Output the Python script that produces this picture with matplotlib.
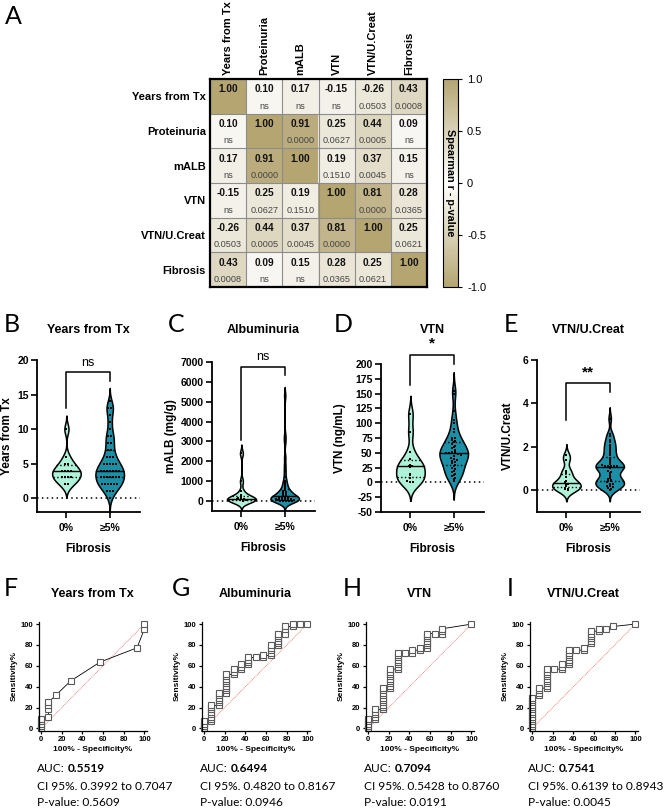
import numpy as np
import matplotlib
matplotlib.use('Agg')
import matplotlib.pyplot as plt
from matplotlib.colors import LinearSegmentedColormap
from matplotlib.cm import ScalarMappable
from matplotlib.colors import Normalize

W, H = 669, 808

# ---- A: Spearman correlation matrix ----
corr_labels = ['Years from Tx', 'Proteinuria', 'mALB', 'VTN', 'VTN/U.Creat', 'Fibrosis']
corr_r = [
	[1.00, 0.10, 0.17, -0.15, -0.26, 0.43],
	[0.10, 1.00, 0.91, 0.25, 0.44, 0.09],
	[0.17, 0.91, 1.00, 0.19, 0.37, 0.15],
	[-0.15, 0.25, 0.19, 1.00, 0.81, 0.28],
	[-0.26, 0.44, 0.37, 0.81, 1.00, 0.25],
	[0.43, 0.09, 0.15, 0.28, 0.25, 1.00],
]
corr_p = [
	['', 'ns', 'ns', 'ns', '0.0503', '0.0008'],
	['ns', '', '0.0000', '0.0627', '0.0005', 'ns'],
	['ns', '0.0000', '', '0.1510', '0.0045', 'ns'],
	['ns', '0.0627', '0.1510', '', '0.0000', '0.0365'],
	['0.0503', '0.0005', '0.0045', '0.0000', '', '0.0621'],
	['0.0008', 'ns', 'ns', '0.0365', '0.0621', ''],
]

# ---- B-E: violin data (0% fibrosis, >=5% fibrosis) ----
years_0 = [10, 6, 5, 5, 4, 4, 4, 4, 3, 3, 3, 3, 2, 2]
years_5 = [14, 13, 13, 12, 11, 10, 9, 9, 8, 8, 7, 7, 6, 6, 6, 5, 5, 5, 5, 5,
	4, 4, 4, 4, 4, 4, 4, 3, 3, 3, 3, 3, 3, 3, 2, 2, 2, 2, 2, 2, 1, 1, 1, 0]
malb_0 = [2400, 1000, 500, 300, 200, 150, 120, 100, 80, 60, 50, 40, 30, 20]
malb_5 = [5300, 3300, 3000, 2200, 1800, 1500, 1200, 1000, 900, 800,
	700, 600, 550, 500, 450, 420, 400, 380, 350, 300,
	280, 250, 230, 200, 180, 160, 150, 130, 120, 100,
	90, 80, 70, 60, 50, 45, 40, 35, 30, 25, 20, 15, 10, 5]
vtn_0 = [115, 85, 52, 40, 30, 28, 28, 26, 15, 12, 8, 2, 1, 0]
vtn_5 = [155, 150, 120, 105, 100, 90, 85, 75, 75, 72,
	70, 68, 65, 62, 60, 58, 55, 52, 51, 50,
	50, 50, 50, 48, 46, 45, 42, 40, 38, 36,
	35, 33, 30, 28, 25, 22, 20, 18, 15, 12, 10, 8, 5, 2]
ratio_0 = [1.6, 1.4, 0.9, 0.8, 0.6, 0.4, 0.35, 0.3, 0.25, 0.2, 0.1, 0.05, 0.03, 0.0]
ratio_5 = [3.3, 2.6, 2.5, 2.3, 2.2, 2.1, 2.0, 1.9, 1.8, 1.7,
	1.6, 1.5, 1.4, 1.35, 1.3, 1.2, 1.15, 1.1, 1.1, 1.1,
	1.1, 1.1, 1.05, 1.0, 0.9, 0.85, 0.8, 0.7, 0.6, 0.55,
	0.5, 0.45, 0.4, 0.4, 0.35, 0.3, 0.3, 0.25, 0.2, 0.2, 0.15, 0.1, 0.05, 0.0]
group_labels = ['0%', '≥5%']
sig_labels = ['ns', 'ns', '*', '**']

# ---- F-I: ROC curves (100% - specificity %, sensitivity %) ----
roc_years_x = [0, 0, 0, 0, 0, 7.14, 7.14, 7.14, 7.14, 14.29, 28.57, 57.14, 92.86, 100, 100]
roc_years_y = [0, 2.27, 4.55, 6.82, 9.09, 11.36, 18.18, 22.73, 25.00, 31.82, 45.45, 63.64, 77.27, 95.45, 100]
roc_malb_x = [0, 0, 0, 0,
	7.14, 7.14, 7.14, 7.14, 7.14, 7.14, 7.14, 7.14,
	14.29, 14.29, 14.29, 14.29, 14.29, 14.29,
	21.43, 21.43, 21.43, 21.43, 21.43, 21.43, 21.43, 21.43, 21.43,
	28.57, 28.57, 28.57, 35.71, 35.71, 35.71,
	42.86, 42.86, 42.86, 42.86, 50.00, 57.14, 57.14,
	64.29, 64.29, 64.29, 64.29, 64.29,
	71.43, 71.43, 71.43, 71.43, 71.43, 71.43,
	78.57, 78.57, 78.57, 85.71, 85.71, 92.86, 100]
roc_malb_y = [0, 2.27, 4.55, 6.82,
	6.82, 9.09, 11.36, 13.64, 15.91, 18.18, 20.45, 22.73,
	22.73, 25.00, 27.27, 29.55, 31.82, 34.09,
	34.09, 36.36, 38.64, 40.91, 43.18, 45.45, 47.73, 50.00, 52.27,
	52.27, 54.55, 56.82, 56.82, 59.09, 61.36,
	61.36, 63.64, 65.91, 68.18, 68.18, 68.18, 70.45,
	70.45, 72.73, 75.00, 77.27, 79.55,
	79.55, 81.82, 84.09, 86.36, 88.64, 90.91,
	90.91, 95.45, 97.73, 97.73, 100, 100, 100]
roc_vtn_x = [0, 0, 0, 0, 0,
	7.14, 7.14, 7.14, 7.14, 7.14,
	14.29, 14.29, 14.29, 14.29, 14.29, 14.29, 14.29, 14.29, 14.29, 14.29,
	21.43, 21.43, 21.43, 21.43, 21.43, 21.43, 21.43, 21.43, 21.43,
	28.57, 28.57, 28.57, 28.57, 28.57, 28.57, 28.57, 28.57,
	35.71, 42.86, 42.86, 50.00, 50.00,
	57.14, 57.14, 57.14, 57.14, 57.14, 57.14, 57.14,
	64.29, 71.43, 71.43, 71.43, 100]
roc_vtn_y = [0, 2.27, 4.55, 6.82, 9.09,
	9.09, 11.36, 13.64, 15.91, 18.18,
	18.18, 20.45, 22.73, 25.00, 27.27, 29.55, 31.82, 34.09, 36.36, 38.64,
	38.64, 40.91, 43.18, 45.45, 47.73, 50.00, 52.27, 54.55, 56.82,
	56.82, 59.09, 61.36, 63.64, 65.91, 68.18, 70.45, 72.73,
	72.73, 72.73, 75.00, 75.00, 77.27,
	77.27, 79.55, 81.82, 84.09, 86.36, 88.64, 90.91,
	90.91, 90.91, 93.18, 95.45, 100]
roc_ratio_x = [0, 0, 0, 0, 0, 0, 0, 0, 0, 0, 0, 0, 0, 0,
	7.14, 7.14, 7.14, 7.14,
	14.29, 14.29, 14.29, 14.29, 14.29, 14.29, 14.29, 14.29, 14.29,
	21.43, 28.57, 28.57, 28.57,
	35.71, 35.71, 35.71, 35.71, 35.71, 35.71, 35.71,
	42.86, 50.00, 50.00,
	57.14, 57.14, 57.14, 57.14, 57.14, 57.14,
	64.29, 64.29, 71.43, 78.57, 100]
roc_ratio_y = [0, 2.27, 4.55, 6.82, 9.09, 11.36, 13.64, 15.91, 18.18, 20.45, 22.73, 25.00, 27.27, 29.55,
	31.82, 34.09, 36.36, 38.64,
	38.64, 40.91, 43.18, 45.45, 47.73, 50.00, 52.27, 54.55, 56.82,
	56.82, 56.82, 59.09, 61.36,
	61.36, 63.64, 65.91, 68.18, 70.45, 72.73, 75.00,
	75.00, 75.00, 77.27,
	81.82, 84.09, 86.36, 88.64, 90.91, 93.18,
	93.18, 95.45, 95.45, 97.73, 100]
roc_auc = ['0.5519', '0.6494', '0.7094', '0.7541']
roc_ci = ['0.3992 to 0.7047', '0.4820 to 0.8167', '0.5428 to 0.8760', '0.6139 to 0.8943']
roc_p = ['0.5609', '0.0946', '0.0191', '0.0045']

titles = ['Years from Tx', 'Albuminuria', 'VTN', 'VTN/U.Creat']

OLIVE = '#b4a571'
MINT = '#aef2d9'
TEAL = '#1b8fa6'
LETTER_FONT = ['Lato', 'DejaVu Sans']

plt.rcParams['font.family'] = ['Liberation Sans', 'DejaVu Sans']


def px_box(x0, y0, x1, y1):
	return [x0 / W, 1 - y1 / H, (x1 - x0) / W, (y1 - y0) / H]


def letter(x, y, s):
	fig.text(x / W, 1 - y / H, s, fontsize=18, family=LETTER_FONT, ha='left', va='center')


def draw_violin(ax, vals, pos, color, bw, binsize, halfw=0.33):
	vals = np.asarray(vals, float)
	y = np.linspace(vals.min() - 2.6 * bw, vals.max() + 2.6 * bw, 400)
	d = np.exp(-0.5 * ((y[:, None] - vals[None, :]) / bw) ** 2).sum(axis=1)
	d = d / d.max() * halfw
	ax.fill_betweenx(y, pos - d, pos + d, facecolor=color, edgecolor='black', lw=1.1, zorder=2)
	q1, med, q3 = np.percentile(vals, [25, 50, 75])
	for q, ls in ((q1, ':'), (med, '-'), (q3, ':')):
		w = np.interp(q, y, d)
		ax.plot([pos - w, pos + w], [q, q], color='black', ls=ls, lw=1.0, zorder=3)
	# points laid out in rows
	keys = np.round(vals / binsize)
	for k in np.unique(keys):
		v = vals[keys == k]
		n = len(v)
		xs = pos + (np.arange(n) - (n - 1) / 2) * 0.07
		ax.plot(xs, v, 's', ms=1.6, color='black', mew=0, zorder=4)


fig = plt.figure(figsize=(W / 100, H / 100), dpi=100)

# ---------------- A ----------------
letter(5, 17, 'A')
ax = fig.add_axes(px_box(210, 79, 427, 287))
cmap = LinearSegmentedColormap.from_list('olive', [OLIVE, 'white', OLIVE])
ax.imshow(np.array(corr_r), cmap=cmap, vmin=-1, vmax=1, extent=(0, 6, 6, 0),
	aspect='auto', interpolation='nearest')
for k in range(1, 6):
	ax.axhline(k, color='#8c8c8c', lw=0.8)
	ax.axvline(k, color='#8c8c8c', lw=0.8)
for i in range(6):
	for j in range(6):
		ax.text(j + 0.5, i + 0.3, '%.2f' % corr_r[i][j], ha='center', va='center',
			fontsize=7.3, fontweight='bold', color='#111111')
		ax.text(j + 0.5, i + 0.78, corr_p[i][j], ha='center', va='center',
			fontsize=6.6, color='#444444')
ax.set_xlim(0, 6)
ax.set_ylim(6, 0)
ax.set_xticks(np.arange(6) + 0.5)
ax.set_xticklabels(corr_labels, rotation=90, fontsize=8, fontweight='bold')
ax.xaxis.tick_top()
ax.set_yticks(np.arange(6) + 0.5)
ax.set_yticklabels(corr_labels, fontsize=8, fontweight='bold')
ax.tick_params(length=0, pad=3)
for s in ax.spines.values():
	s.set_linewidth(1.6)

cax = fig.add_axes(px_box(443, 79, 458, 287))
cb = fig.colorbar(ScalarMappable(norm=Normalize(-1, 1), cmap=cmap), cax=cax)
cb.set_ticks([-1, -0.5, 0, 0.5, 1])
cb.set_ticklabels(['-1.0', '-0.5', '0', '0.5', '1.0'])
cax.tick_params(labelsize=8, length=3, width=0.8)
cb.outline.set_linewidth(0.8)
cax.text(0.5, 0.5, 'Spearman r - p-value', rotation=-90, transform=cax.transAxes,
	ha='center', va='center', fontsize=7.8, fontweight='bold')

# ---------------- B-E ----------------
violin_sets = [
	(years_0, years_5, 'Years from Tx', (-2, 20), [0, 5, 10, 15, 20], 0.75, 1.0, (18.2, 13.0, 17.0)),
	(malb_0, malb_5, 'mALB (mg/g)', (-500, 7000), list(range(0, 7001, 1000)), 170, 60, (6760, 3070, 6340)),
	(vtn_0, vtn_5, 'VTN (ng/mL)', (-50, 200), list(range(-50, 201, 25)), 12, 4, (216, 164, 200)),
	(ratio_0, ratio_5, 'VTN/U.Creat', (-1, 6), [0, 2, 4, 6], 0.2, 0.08, (4.92, 3.23, 4.54)),
]
violin_boxes = [(37, 360, 140, 512), (212, 362, 315, 511), (381, 364, 484, 512), (537, 360, 640, 511.7)]
violin_letters = [(4, 325, 'B'), (168, 325, 'C'), (334, 325, 'D'), (504, 325, 'E')]
violin_ylabel_x = [13, 177, 346, 514]

for n, (g0, g5, ylab, ylim, yticks, bw, binsize, br) in enumerate(violin_sets):
	box = violin_boxes[n]
	ax = fig.add_axes(px_box(*box))
	letter(violin_letters[n][0], violin_letters[n][1], violin_letters[n][2])
	draw_violin(ax, g0, 0, MINT, bw, binsize)
	draw_violin(ax, g5, 1, TEAL, bw, binsize)
	ax.set_xlim(-0.68, 1.7)
	ax.set_ylim(*ylim)
	ax.axhline(0, color='black', ls=(0, (1, 2.2)), lw=1.1, zorder=1)
	ax.set_yticks(yticks)
	ax.set_yticklabels([str(t) for t in yticks], fontsize=7.5, fontweight='bold')
	ax.set_xticks([0, 1])
	ax.set_xticklabels(group_labels, fontsize=7.5, fontweight='bold')
	ax.tick_params(direction='out', length=4, width=1.2, pad=2)
	ax.tick_params(axis='x', pad=4)
	for s in ('top', 'right'):
		ax.spines[s].set_visible(False)
	for s in ('left', 'bottom'):
		ax.spines[s].set_linewidth(1.3)
	ax.set_xlabel('Fibrosis', fontsize=8.5, fontweight='bold', labelpad=7)
	ax.yaxis.set_label_coords((violin_ylabel_x[n] - box[0]) / (box[2] - box[0]), 0.5)
	ax.set_ylabel(ylab, fontsize=8.5, fontweight='bold')
	top, l0, l1 = br
	ax.plot([0, 0, 1, 1], [l0, top, top, l1], color='black', lw=1.1, clip_on=False)
	span = ylim[1] - ylim[0]
	ax.text(0.5, top + span * 0.025, sig_labels[n], ha='center', va='bottom',
		fontsize=9 if n < 2 else 11, fontweight='normal' if n < 2 else 'bold', clip_on=False)
	fig.text(((box[0] + box[2]) / 2) / W, 1 - 330 / H, titles[n], ha='center', va='center',
		fontsize=9, fontweight='bold')

# ---------------- F-I ----------------
roc_sets = [(roc_years_x, roc_years_y), (roc_malb_x, roc_malb_y),
	(roc_vtn_x, roc_vtn_y), (roc_ratio_x, roc_ratio_y)]
roc_left = [39, 202, 366, 530]
roc_letters = [(4, 588, 'F'), (172, 588, 'G'), (343, 588, 'H'), (507, 588, 'I')]
renderer = fig.canvas.get_renderer()
ROC_FS = 8.6

for n, (rx, ry) in enumerate(roc_sets):
	x0 = roc_left[n]
	ax = fig.add_axes(px_box(x0, 622, x0 + 107.5, 730.5))
	letter(*roc_letters[n])
	ax.plot([0, 100], [0, 100], color='#e36b6b', ls=(0, (1, 1)), lw=0.6, zorder=1)
	ax.plot(rx, ry, color='black', lw=0.6, marker='s', ms=4.8, mfc='white',
		mec='#5a5a5a', mew=0.8, zorder=2, clip_on=False)
	ax.set_xlim(-2, 102)
	ax.set_ylim(-2, 102)
	ticks = [0, 20, 40, 60, 80, 100]
	ax.set_xticks(ticks)
	ax.set_yticks(ticks)
	ax.set_xticklabels([str(t) for t in ticks], fontsize=5.5, fontweight='bold')
	ax.set_yticklabels([str(t) for t in ticks], fontsize=5.5, fontweight='bold')
	ax.tick_params(direction='out', length=2.5, width=0.9, pad=1.5)
	for s in ('top', 'right'):
		ax.spines[s].set_visible(False)
	for s in ('left', 'bottom'):
		ax.spines[s].set_linewidth(0.9)
	ax.set_xlabel('100% - Specificity%', fontsize=6, fontweight='bold', labelpad=2)
	ax.set_ylabel('Sensitivity%', fontsize=6, fontweight='bold', labelpad=2)
	fig.text((x0 + 53) / W, 1 - 594 / H, titles[n], ha='center', va='center',
		fontsize=9, fontweight='bold')
	tx = (x0 - 2) / W
	t1 = fig.text(tx, 1 - 768 / H, 'AUC:', fontsize=ROC_FS, family=LETTER_FONT, va='center')
	bb = t1.get_window_extent(renderer)
	fig.text(tx + (bb.width + 3) / W, 1 - 768 / H, roc_auc[n], fontsize=ROC_FS,
		family=LETTER_FONT, fontweight='bold', va='center')
	fig.text(tx, 1 - 786 / H, 'CI 95%. ' + roc_ci[n], fontsize=ROC_FS, family=LETTER_FONT, va='center')
	fig.text(tx, 1 - 803 / H, 'P-value: ' + roc_p[n], fontsize=ROC_FS, family=LETTER_FONT, va='center')

fig.savefig('out.png', dpi=100)
